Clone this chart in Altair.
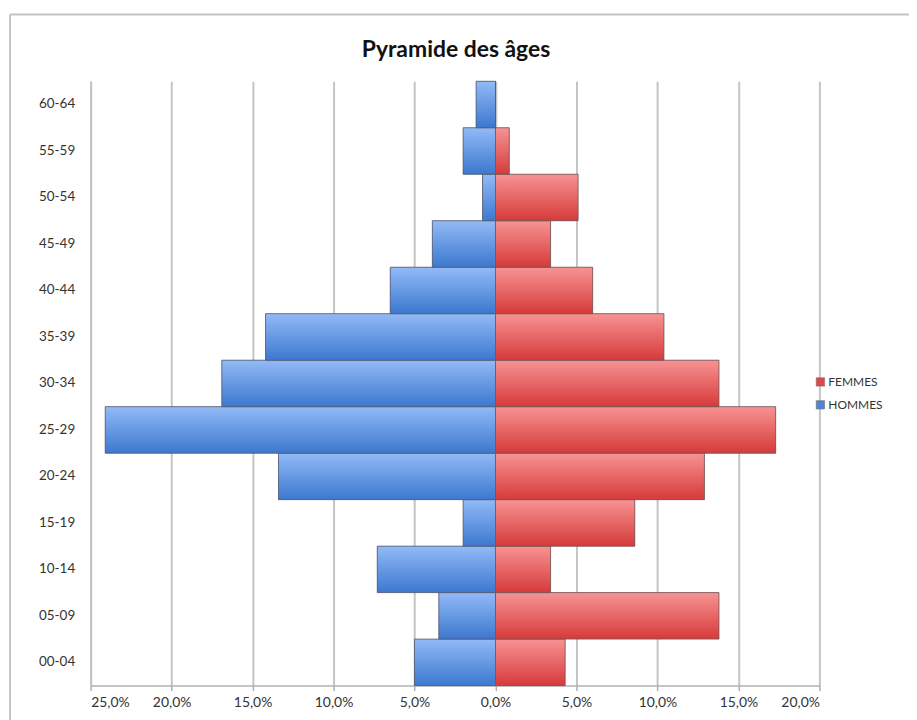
import altair as alt
import pandas as pd

ages = ["00-04", "05-09", "10-14", "15-19", "20-24", "25-29", "30-34",
        "35-39", "40-44", "45-49", "50-54", "55-59", "60-64"]
hommes = [5.0, 3.5, 7.3, 2.0, 13.4, 24.1, 16.9, 14.2, 6.5, 3.9, 0.8, 2.0, 1.2]
femmes = [4.3, 13.8, 3.4, 8.6, 12.9, 17.3, 13.8, 10.4, 6.0, 3.4, 5.1, 0.85, 0.0]
series = ["FEMMES", "HOMMES"]
ticks = [-25, -20, -15, -10, -5, 0, 5, 10, 15, 20]
title_text = "Pyramide des âges"

rows = []
for a, h, f in zip(ages, hommes, femmes):
    rows.append({"age": a, "sexe": "HOMMES", "pct": h})
    rows.append({"age": a, "sexe": "FEMMES", "pct": f})
df = pd.DataFrame(rows)

W, H = 732, 607
FONT = "Lato"
order = list(reversed(ages))

base = alt.Chart(df).transform_calculate(
    val="datum.sexe == 'HOMMES' ? -datum.pct : datum.pct"
)

xenc = alt.X("val:Q", scale=alt.Scale(domain=[-25, 20], nice=False, zero=False),
             axis=alt.Axis(values=ticks, title=None,
                           labelExpr="replace(format(abs(datum.value), '.1f'), '.', ',') + '%'",
                           grid=True, gridColor="#c4c4c4", gridWidth=2,
                           domainColor="#b0b0b0", domainWidth=1.5,
                           tickColor="#b0b0b0", tickSize=5, tickWidth=1.5,
                           labelFont=FONT, labelFontSize=14, labelColor="#333333",
                           labelPadding=5))
yenc = alt.Y("age:N", sort=order,
             scale=alt.Scale(paddingInner=0, paddingOuter=0),
             axis=alt.Axis(title=None, ticks=False, grid=False,
                           domainColor="#c4c4c4", domainWidth=2,
                           labelFont=FONT, labelFontSize=13.5, labelColor="#333333",
                           labelPadding=16))

legend_layer = base.mark_bar().encode(
    x=xenc, x2=alt.datum(0), y=yenc,
    color=alt.Color("sexe:N", scale=alt.Scale(domain=series, range=["#e04848", "#4a86d8"]),
                    legend=alt.Legend(title=None, orient="none", legendX=727, legendY=296,
                                      symbolType="square", symbolSize=70,
                                      symbolStrokeColor="#7a6a6a", symbolStrokeWidth=0.6,
                                      labelFont=FONT, labelFontSize=12, labelColor="#333333",
                                      rowPadding=11, labelOffset=2))
)

blue_grad = alt.LinearGradient(gradient="linear", x1=0, y1=0, x2=0, y2=1,
                               stops=[alt.GradientStop(offset=0, color="#92baf7"),
                                      alt.GradientStop(offset=1, color="#3c78cf")])
red_grad = alt.LinearGradient(gradient="linear", x1=0, y1=0, x2=0, y2=1,
                              stops=[alt.GradientStop(offset=0, color="#f79393"),
                                     alt.GradientStop(offset=1, color="#d63a3a")])

h_layer = base.transform_filter("datum.sexe == 'HOMMES'").mark_bar(
    color=blue_grad, stroke="#5a5a6a", strokeWidth=0.8
).encode(x=alt.X("val:Q"), x2=alt.datum(0), y=alt.Y("age:N", sort=order))

f_layer = base.transform_filter("datum.sexe == 'FEMMES'").mark_bar(
    color=red_grad, stroke="#6a5a5a", strokeWidth=0.8
).encode(x=alt.X("val:Q"), x2=alt.datum(0), y=alt.Y("age:N", sort=order))

frame_df = pd.DataFrame({"k": [0]})
top_line = alt.Chart(frame_df).mark_rule(color="#c4c4c4", strokeWidth=2).encode(
    x=alt.value(-81), x2=alt.value(830), y=alt.value(-67))
left_line = alt.Chart(frame_df).mark_rule(color="#c4c4c4", strokeWidth=2).encode(
    x=alt.value(-81), y=alt.value(-67), y2=alt.value(660))
title_layer = alt.Chart(frame_df).mark_text(
    text=title_text, font=FONT, fontSize=23, fontWeight="bold", color="#111111",
    align="center", baseline="middle"
).encode(x=alt.value(W / 2 + 1), y=alt.value(-31))

chart = alt.layer(legend_layer, h_layer, f_layer, top_line, left_line, title_layer).properties(
    width=W, height=H,
    autosize=alt.AutoSizeParams(type="none"),
    padding={"left": 83, "top": 72, "right": 90, "bottom": 40},
).configure_view(stroke=None)

chart.save("out.html", embed_options={"renderer": "svg", "actions": False})
